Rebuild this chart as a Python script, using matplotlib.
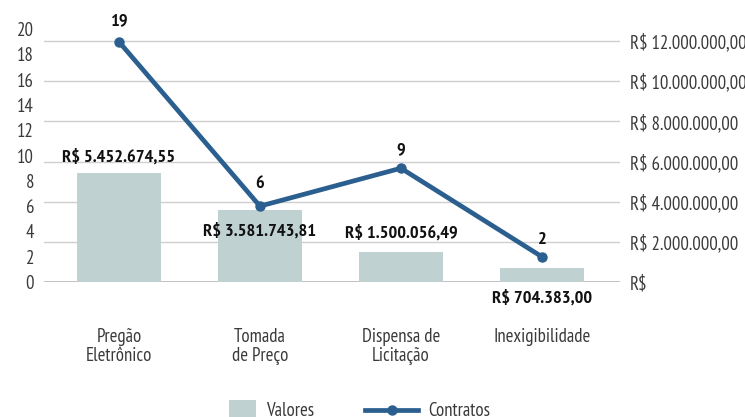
import matplotlib
matplotlib.use("Agg")
import matplotlib.pyplot as plt
from matplotlib.ticker import FixedLocator, FuncFormatter
from matplotlib.patches import Patch, Rectangle
from matplotlib.lines import Line2D
from matplotlib.legend_handler import HandlerPatch

plt.rcParams["font.family"] = ["PT Sans Narrow", "DejaVu Sans"]

# Dados
categorias = ["Pregão\nEletrônico", "Tomada\nde Preço", "Dispensa de\nLicitação", "Inexigibilidade"]
valores = [5452674.55, 3581743.81, 1500056.49, 704383.00]
rotulos_valores = ["R$ 5.452.674,55", "R$ 3.581.743,81", "R$ 1.500.056,49", "R$ 704.383,00"]
contratos = [19, 6, 9, 2]
ticks_contratos = [0, 2, 4, 6, 8, 10, 12, 14, 16, 18, 20]
ticks_valores = [0, 2000000, 4000000, 6000000, 8000000, 10000000, 12000000]

# Estilo
cor_barra = "#bfd2d1"
cor_linha = "#2b5f8f"
cor_texto = "#3a3a3a"
cor_grade = "#cfcfcf"
tam_texto = 13.5
tam_rotulo = 13.2

# deslocamento vertical (px) de cada rótulo de valor em relação ao topo da barra
desloc_valores = [15, -21, 19, -30]
# deslocamento vertical (px) de cada rótulo de contratos em relação ao ponto
desloc_contratos = [21, 22, 18, 17]

fig = plt.figure(figsize=(7.45, 4.17), dpi=100)
ax = fig.add_axes([0.059, 0.3237, 0.773, 0.6065])
x = list(range(len(categorias)))

# Barras: valores (eixo da direita)
ax.bar(x, valores, width=0.6, color=cor_barra, zorder=2)
ax.set_xlim(-0.532, 3.553)
ax.set_ylim(0, 12.6e6)

# Linha: contratos (eixo da esquerda)
ax2 = ax.twinx()
ax.yaxis.tick_right()
ax2.yaxis.tick_left()

ax.yaxis.set_major_locator(FixedLocator(ticks_valores))


def fmt_real(v, pos):
    if v == 0:
        return "R$"
    s = f"{v:,.2f}".replace(",", "X").replace(".", ",").replace("X", ".")
    return "R$ " + s


ax.yaxis.set_major_formatter(FuncFormatter(fmt_real))
ax.tick_params(axis="y", which="both", left=False, labelleft=False, right=False,
               labelright=True, length=0, pad=7, labelsize=tam_texto, labelcolor=cor_texto)
ax.set_axisbelow(True)
ax.grid(axis="y", color=cor_grade, linewidth=1.0, zorder=0)
for s in ax.spines.values():
    s.set_visible(False)
ax.axhline(0, color="#bdbdbd", linewidth=2.0, zorder=1)

ax.set_xticks(x)
ax.set_xticklabels(categorias, fontsize=tam_texto, color=cor_texto, linespacing=1.1)
ax.tick_params(axis="x", length=0, pad=33)

for xi, v, txt, d in zip(x, valores, rotulos_valores, desloc_valores):
    ax.annotate(txt, (xi, v), xytext=(0, d), textcoords="offset pixels",
                ha="center", va="center", fontsize=tam_rotulo, fontweight="bold",
                color="#111111", zorder=5)

ax2.plot(x, contratos, color=cor_linha, linewidth=3.4, marker="o",
         markersize=6.5, solid_capstyle="round", zorder=4, clip_on=False)
ax2.set_ylim(0, 20)
ax2.yaxis.set_major_locator(FixedLocator(ticks_contratos))
ax2.tick_params(axis="y", which="both", right=False, labelright=False, left=False,
                labelleft=True, length=0, pad=7, labelsize=tam_texto, labelcolor=cor_texto)
for s in ax2.spines.values():
    s.set_visible(False)

for xi, c, d in zip(x, contratos, desloc_contratos):
    ax2.annotate(str(c), (xi, c), xytext=(0, d), textcoords="offset pixels",
                 ha="center", va="center", fontsize=tam_rotulo, fontweight="bold",
                 color="#111111", annotation_clip=False)


class HandlerQuadrado(HandlerPatch):
    """Amostra de barra mais estreita que a caixa da legenda, alinhada à direita."""

    def create_artists(self, legend, orig_handle, xdescent, ydescent,
                       width, height, fontsize, trans):
        w, h = 19.5, 14.5
        r = Rectangle((-xdescent + width - w, -ydescent + height / 2 - h / 2), w, h,
                      facecolor=orig_handle.get_facecolor(), edgecolor="none",
                      transform=trans)
        return [r]


# Legenda
amostra_barra = Patch(facecolor=cor_barra, edgecolor="none")
amostra_linha = Line2D([0], [0], color=cor_linha, linewidth=3.4, marker="o", markersize=6.5)
fig.legend([amostra_barra, amostra_linha], ["Valores", "Contratos"], loc="center", ncol=2,
           bbox_to_anchor=(0.465, 0.014), frameon=False, fontsize=tam_texto,
           labelcolor=cor_texto, handlelength=2.83, handletextpad=0.53,
           columnspacing=2.75, borderpad=0.0,
           handler_map={Patch: HandlerQuadrado()})

fig.savefig("out.png", dpi=100)
